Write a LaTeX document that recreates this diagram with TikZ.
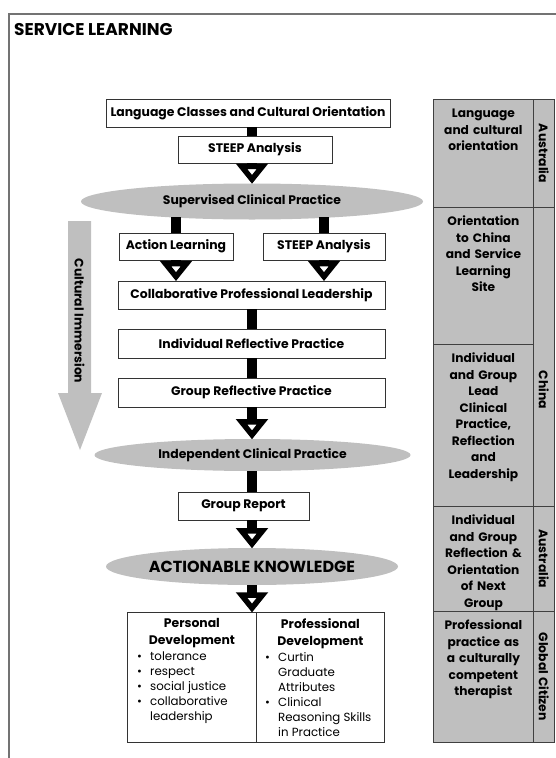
\documentclass[tikz,border=0pt]{standalone}
\usepackage{fontspec}
\setmainfont{Poppins}
\usetikzlibrary{calc,positioning,shapes.geometric}

% bar plus open head, from one node down to the next
\newcommand\flowarrow[3]{%
  \draw[linkbar] (#1|-#2.south) -- ($(#1|-#3.north)+(0,-15)$);
  \draw[arrowhead] ($(#1|-#3.north)+(-10.5,-17)$) -- ($(#1|-#3.north)+(10.5,-17)$)
    -- ($(#1|-#3.north)+(0,-4)$) -- cycle;}

\begin{document}
\begin{tikzpicture}[x=1pt,y=-1pt,
  stepbox/.style={draw=black!80,line width=0.8pt,fill=white,inner sep=0pt,
    minimum height=28pt,font=\fontsize{12.4}{14}\selectfont\bfseries},
  phase/.style={ellipse,fill=black!25,inner sep=0pt,
    font=\fontsize{12.4}{14}\selectfont\bfseries},
  linkbar/.style={line width=10pt,black},
  arrowhead/.style={draw=black,fill=white,line width=5.5pt},
  devbox/.style={draw=black!80,line width=0.8pt,inner sep=0pt,anchor=north west,
    minimum height=130pt},
  devhead/.style={inner sep=0pt,align=center,
    font=\fontsize{12.4}{17}\selectfont\bfseries},
  devlist/.style={inner sep=0pt,align=left,anchor=north west,
    font=\fontsize{11.8}{15}\selectfont},
  cell/.style={draw=black!75,fill=black!25,line width=0.8pt,inner sep=0pt,
    anchor=north west},
  celltext/.style={inner sep=0pt,align=center,text width=98pt,
    font=\fontsize{12.2}{16.5}\selectfont\bfseries},
  sidetext/.style={rotate=-90,inner sep=0pt,
    font=\fontsize{12.4}{14}\selectfont\bfseries},
  ]
  \useasboundingbox (0,0) rectangle (556,758);
  \draw[black!55,line width=1.2pt] (9,758) -- (9,14) -- (556,14);
  \node[anchor=west,inner sep=0pt,font=\fontsize{17}{20}\selectfont\bfseries]
    (title) at (14,30) {SERVICE LEARNING};

  % flow column
  \coordinate (spine) at (252,0);
  \node[stepbox,minimum width=284pt] (langbox) at (248,113)
    {Language Classes and Cultural Orientation};
  \node[stepbox,minimum width=154pt,minimum height=27pt] (steep1) at (255,149.5)
    {STEEP Analysis};
  \node[phase,minimum width=342pt,minimum height=36pt] (supervised) at (252,201.5)
    {Supervised Clinical Practice};
  \node[stepbox,minimum width=114pt,minimum height=27pt] (action) at (176,246.5)
    {Action Learning};
  \node[stepbox,minimum width=122pt,minimum height=27pt] (steep2) at (324,246.5)
    {STEEP Analysis};
  \node[stepbox,minimum width=267pt] (collab) at (251.5,295)
    {Collaborative Professional Leadership};
  \node[stepbox,minimum width=267pt,minimum height=29pt] (indref) at (251.5,343.5)
    {Individual Reflective Practice};
  \node[stepbox,minimum width=267pt,minimum height=29pt] (grpref) at (251.5,392.5)
    {Group Reflective Practice};
  \node[phase,minimum width=316pt,minimum height=32pt] (independent) at (252.5,455)
    {Independent Clinical Practice};
  \node[stepbox,minimum width=131pt] (report) at (243.5,506)
    {Group Report};
  \node[phase,minimum width=292pt,minimum height=37pt,
    font=\fontsize{16}{18}\selectfont\bfseries] (actionable) at (252,566.5)
    {ACTIONABLE KNOWLEDGE};

  % outcomes
  \node[devbox,minimum width=129pt] (persbox) at (127,612) {};
  \node[devbox,minimum width=128pt] (profbox) at (256,612) {};
  \node[devhead,below=6pt of persbox.north] (pershead) {Personal\\Development};
  \node[devhead,below=6pt of profbox.north] (profhead) {Professional\\Development};
  \node[devlist] (perslist) at (137,652)
    {\makebox[13pt][l]{\textbullet}tolerance\\
     \makebox[13pt][l]{\textbullet}respect\\
     \makebox[13pt][l]{\textbullet}social justice\\
     \makebox[13pt][l]{\textbullet}collaborative\\
     \hspace*{13pt}leadership};
  \node[devlist] (proflist) at (265,652)
    {\makebox[13pt][l]{\textbullet}Curtin\\
     \hspace*{13pt}Graduate\\
     \hspace*{13pt}Attributes\\
     \makebox[13pt][l]{\textbullet}Clinical\\
     \hspace*{13pt}Reasoning Skills\\
     \hspace*{13pt}in Practice};

  % connectors
  \draw[linkbar] (spine|-langbox.south) -- (spine|-steep1.north);
  \flowarrow{spine}{steep1}{supervised}
  \draw[linkbar] (action.north) -- ($(action|-supervised.south)+(0,-3)$);
  \draw[linkbar] (steep2.north) -- ($(steep2|-supervised.south)+(0,-3)$);
  \flowarrow{action}{action}{collab}
  \flowarrow{steep2}{steep2}{collab}
  \draw[linkbar] (spine|-collab.south) -- (spine|-indref.north);
  \draw[linkbar] (spine|-indref.south) -- (spine|-grpref.north);
  \flowarrow{spine}{grpref}{independent}
  \draw[linkbar] (spine|-independent.south) -- (spine|-report.north);
  \flowarrow{spine}{report}{actionable}
  \flowarrow{spine}{actionable}{persbox}

  % cultural immersion
  \fill[black!25] (68,221) -- (91,221) -- (91,393) -- (102,393) -- (80,450)
    -- (58,393) -- (68,393) -- cycle;
  \node[sidetext] (immersion) at (79.5,321) {Cultural Immersion};

  % phases by place
  \node[cell,minimum width=100pt,minimum height=108pt] (langcell) at (433,99) {};
  \node[celltext,below=10pt of langcell.north] (langtext)
    {Language\\and cultural\\orientation};
  \node[cell,minimum width=100pt,minimum height=137pt] (sitecell) at (433,207) {};
  \node[celltext,below=9pt of sitecell.north] (sitetext)
    {Orientation\\to China\\and Service\\Learning\\Site};
  \node[cell,minimum width=100pt,minimum height=162pt] (leadcell) at (433,344) {};
  \node[celltext,below=9pt of leadcell.north] (leadtext)
    {Individual\\and Group\\Lead\\Clinical\\Practice,\\Reflection\\and\\Leadership};
  \node[cell,minimum width=100pt,minimum height=105pt] (nextcell) at (433,506) {};
  \node[celltext,below=9pt of nextcell.north] (nexttext)
    {Individual\\and Group\\Reflection \&\\Orientation\\of Next\\Group};
  \node[cell,minimum width=100pt,minimum height=131pt] (citcell) at (433,611) {};
  \node[celltext,below=9pt of citcell.north] (cittext)
    {Professional\\practice as\\a culturally\\competent\\therapist};

  \node[cell,minimum width=21pt,minimum height=108pt] (aus1) at (533,99) {};
  \node[cell,minimum width=21pt,minimum height=299pt] (china) at (533,207) {};
  \node[cell,minimum width=21pt,minimum height=105pt] (aus2) at (533,506) {};
  \node[cell,minimum width=21pt,minimum height=131pt] (global) at (533,611) {};
  \node[sidetext] at (aus1.center) {Australia};
  \node[sidetext] at ($(china.center)+(0,33)$) {China};
  \node[sidetext] at (aus2.center) {Australia};
  \node[sidetext] at (global.center) {Global Citizen};
\end{tikzpicture}
\end{document}
